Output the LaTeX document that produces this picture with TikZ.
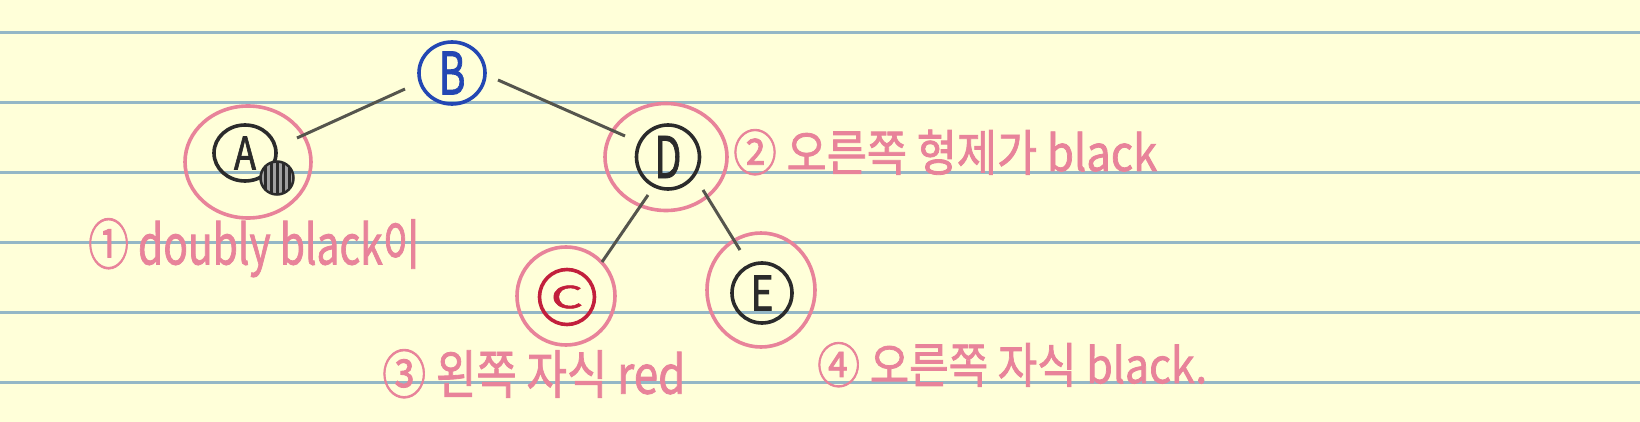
\documentclass[tikz,border=0pt]{standalone}
\usepackage{fontspec}
\usepackage{graphicx}
\setmainfont{Noto Sans CJK KR}
\newfontfamily\penfont[FakeBold=1.6]{Noto Sans CJK KR}
\usetikzlibrary{shapes.geometric,calc}
\definecolor{paper}{HTML}{FFFFD9}
\definecolor{rulecol}{HTML}{94B7C6}
\definecolor{pinkpen}{HTML}{E8839A}
\definecolor{bluepen}{HTML}{2347B3}
\definecolor{redpen}{HTML}{C21F3C}
\definecolor{ink}{HTML}{2B2B2B}
\definecolor{edgegray}{HTML}{55554D}
\begin{document}
\begin{tikzpicture}[x=1pt,y=-1pt,
  ring/.style={ellipse, draw=pinkpen, line width=3.6pt, inner sep=0pt},
  innerring/.style={ellipse, draw=ink, line width=3.6pt, inner sep=0pt, text=ink, font=\penfont},
  edgeline/.style={draw=edgegray, line width=3pt},
  note/.style={inner sep=0pt, anchor=north west, text=pinkpen, font=\penfont},
  hatchball/.style={circle, draw=ink, line width=2.5pt, fill=ink!45, inner sep=0pt,
    path picture={\foreach \i in {-12,-6,...,12}
      \draw[ink, line width=3pt] ([xshift=\i pt]path picture bounding box.north) -- ([xshift=\i pt]path picture bounding box.south);}},
]
\useasboundingbox (0,0) rectangle (1640,422);
\fill[paper] (0,0) rectangle (1640,422);
\foreach \y in {32.7,102.7,172.7,242.7,312.7,382.7}
  \draw[rulecol, line width=2.5pt] (0,\y) -- (1640,\y);

% nodes
\node[ellipse, draw=bluepen, line width=3.6pt, minimum width=66pt, minimum height=62pt, inner sep=0pt, text=bluepen, font=\penfont] (B) at (452,73) {\resizebox*{27pt}{43pt}{B}};

\node[ring, minimum width=126pt, minimum height=112pt] (Aout) at (248,162) {};
\node[innerring, minimum width=62pt, minimum height=56pt] (A) at (245,153) {\resizebox*{22pt}{33pt}{A}};
\node[hatchball, minimum size=33pt] (Ahatch) at (277,178) {};

\node[ring, minimum width=122pt, minimum height=107pt] (Dout) at (666,157) {};
\node[innerring, minimum width=63pt, minimum height=64pt] (D) at (668,157) {\resizebox*{27pt}{42pt}{D}};

\node[ring, minimum width=98pt, minimum height=98pt] (Cout) at (566,296) {};
\node[ellipse, draw=redpen, line width=3.6pt, minimum size=55pt, inner sep=0pt, text=redpen, font=\penfont] (C) at (567,297) {\resizebox*{32pt}{23pt}{C}};

\node[ring, minimum width=108pt, minimum height=114pt] (Eout) at (761,290) {};
\node[innerring, minimum size=60pt] (E) at (762,293) {\resizebox*{23pt}{35pt}{E}};

% edges
\draw[edgeline] ($(B)+(-47,16)$) -- ($(Aout)+(49,-24)$);
\draw[edgeline] ($(B)+(46,7)$) -- ($(Dout)+(-41,-21)$);
\draw[edgeline] ($(Dout)+(-18,38)$) -- ($(Cout)+(36,-34)$);
\draw[edgeline] ($(Dout)+(37,33)$) -- ($(Eout)+(-21,-40)$);

% notes
\node[note] (n1) at (88,218) {\resizebox*{332pt}{59pt}{① doubly black이}};
\node[note] (n2) at (733,129) {\resizebox*{424pt}{46pt}{② 오른쪽 형제가 black}};
\node[note] (n3) at (382,349) {\resizebox*{303pt}{49pt}{③ 왼쪽 자식 red}};
\node[note] (n4) at (817,342) {\resizebox*{390pt}{45pt}{④ 오른쪽 자식 black.}};
\end{tikzpicture}
\end{document}
